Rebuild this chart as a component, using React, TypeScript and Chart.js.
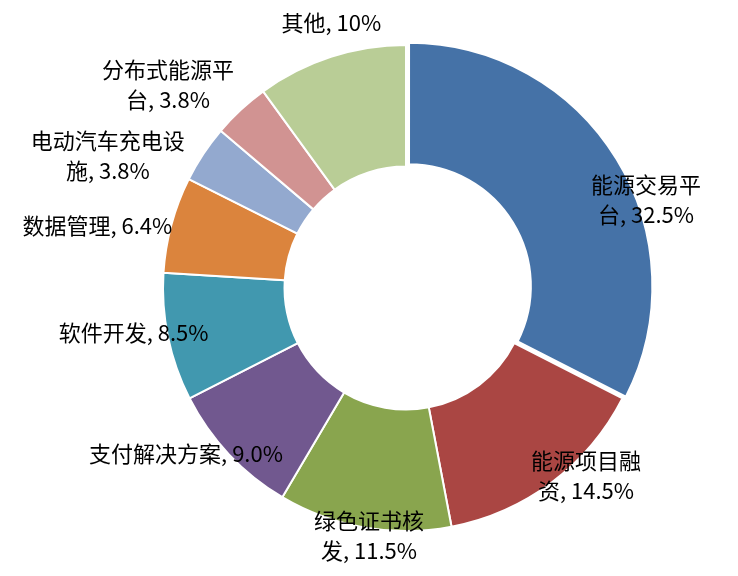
import React, { useEffect, useRef } from "react";
import { Chart, registerables } from "chart.js";

Chart.register(...registerables);

const categories = [
  "能源交易平台",
  "能源项目融资",
  "绿色证书核发",
  "支付解决方案",
  "软件开发",
  "数据管理",
  "电动汽车充电设施",
  "分布式能源平台",
  "其他",
];
const shares = [32.5, 14.5, 11.5, 9.0, 8.5, 6.4, 3.8, 3.8, 10];
const shareLabels = ["32.5%", "14.5%", "11.5%", "9.0%", "8.5%", "6.4%", "3.8%", "3.8%", "10%"];
// character index at which the category name wraps onto a second line (0 = no wrap)
const wrapAt = [5, 5, 5, 0, 0, 0, 7, 6, 0];

const colors = [
  "#4572A7",
  "#AA4643",
  "#89A54E",
  "#71588F",
  "#4198AF",
  "#DB843D",
  "#93A9CF",
  "#D19392",
  "#B9CD96",
];

// label anchor: angle (deg clockwise from top) and distance as fraction of outer radius
const labelAngle = [69.7, 136.2, 188.5, 233.1, 260.6, 281.5, 293.9, 310.5, 344.3];
const labelDist = [1.053, 1.07, 1.029, 1.132, 1.136, 1.296, 1.342, 1.288, 1.136];

const FONT = '22px "Noto Sans CJK SC", "Noto Sans", sans-serif';
const LINE_H = 30;

const labelPlugin = {
  id: "sliceLabels",
  afterDatasetsDraw(chart: any) {
    const meta = chart.getDatasetMeta(0);
    const ref = meta.data[1];
    if (!ref) return;
    const cx = ref.x;
    const cy = ref.y;
    const R = ref.outerRadius;
    const ctx = chart.ctx;
    ctx.save();
    ctx.font = FONT;
    ctx.fillStyle = "#000";
    ctx.textAlign = "center";
    ctx.textBaseline = "middle";
    categories.forEach((name, i) => {
      const full = `${name}, ${shareLabels[i]}`;
      const lines = wrapAt[i] > 0 ? [full.slice(0, wrapAt[i]), full.slice(wrapAt[i])] : [full];
      const a = (labelAngle[i] * Math.PI) / 180;
      const r = labelDist[i] * R;
      const x = cx + r * Math.sin(a);
      const y = cy - r * Math.cos(a);
      const top = y - ((lines.length - 1) * LINE_H) / 2;
      lines.forEach((ln, k) => ctx.fillText(ln, x, top + k * LINE_H));
    });
    ctx.restore();
  },
};

export default function App() {
  const canvasRef = useRef<HTMLCanvasElement | null>(null);

  useEffect(() => {
    if (!canvasRef.current) return;
    const chart = new Chart(canvasRef.current, {
      type: "doughnut",
      data: {
        labels: categories,
        datasets: [
          {
            data: shares,
            backgroundColor: colors,
            borderColor: "#ffffff",
            borderWidth: 2,
            offset: [14, 0, 0, 0, 0, 0, 0, 0, 0],
          },
        ],
      },
      options: {
        animation: false,
        responsive: true,
        maintainAspectRatio: false,
        cutout: "50%",
        layout: { padding: { left: 155, right: 81, top: 37, bottom: 37 } },
        plugins: {
          legend: { display: false },
          tooltip: { enabled: false },
        },
      },
      plugins: [labelPlugin],
    });
    return () => chart.destroy();
  }, []);

  return (
    <div style={{ position: "fixed", left: 0, top: 0, width: 738, height: 576, background: "#fff" }}>
      <canvas ref={canvasRef} />
    </div>
  );
}
